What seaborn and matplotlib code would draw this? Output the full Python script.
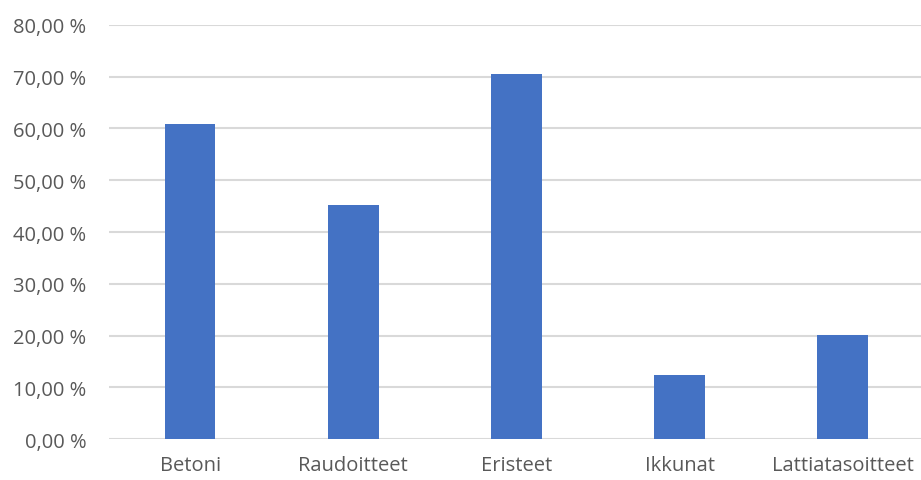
import matplotlib
matplotlib.use("Agg")
import matplotlib.pyplot as plt
import seaborn as sns
import pandas as pd
from matplotlib.ticker import FuncFormatter, MultipleLocator

categories = ["Betoni", "Raudoitteet", "Eristeet", "Ikkunat", "Lattiatasoitteet"]
values = [60.9, 45.2, 70.5, 12.5, 20.2]

sns.set_theme(style="white")
plt.rcParams['font.family'] = ['Open Sans', 'DejaVu Sans']

df = pd.DataFrame({"cat": categories, "val": values})

fig = plt.figure(figsize=(9.21, 4.81), dpi=100)
ax = fig.add_axes([108.5 / 921, 1 - 440.3 / 481, (921 - 108.5) / 921, (440.3 - 25.7) / 481])

sns.barplot(data=df, x="cat", y="val", color="#4472C4", width=0.31, ax=ax,
            saturation=1, zorder=3, linewidth=0, edgecolor="none")

ax.set_xlim(-0.5, 4.48)
ax.set_ylim(0, 80)
ax.yaxis.set_major_locator(MultipleLocator(10))
ax.yaxis.set_major_formatter(FuncFormatter(lambda v, p: f"{v:.2f}".replace(".", ",") + " %"))
ax.grid(axis="y", color="#D9D9D9", linewidth=1.5, zorder=0)
ax.grid(axis="x", visible=False)
for s in ax.spines.values():
    s.set_visible(False)
ax.set_xlabel("")
ax.set_ylabel("")
ax.tick_params(axis="y", length=0, pad=16, labelsize=14.5, labelcolor="#595959")
ax.tick_params(axis="x", length=0, pad=11, labelsize=14.5, labelcolor="#595959")

fig.savefig("out.png", dpi=100)
